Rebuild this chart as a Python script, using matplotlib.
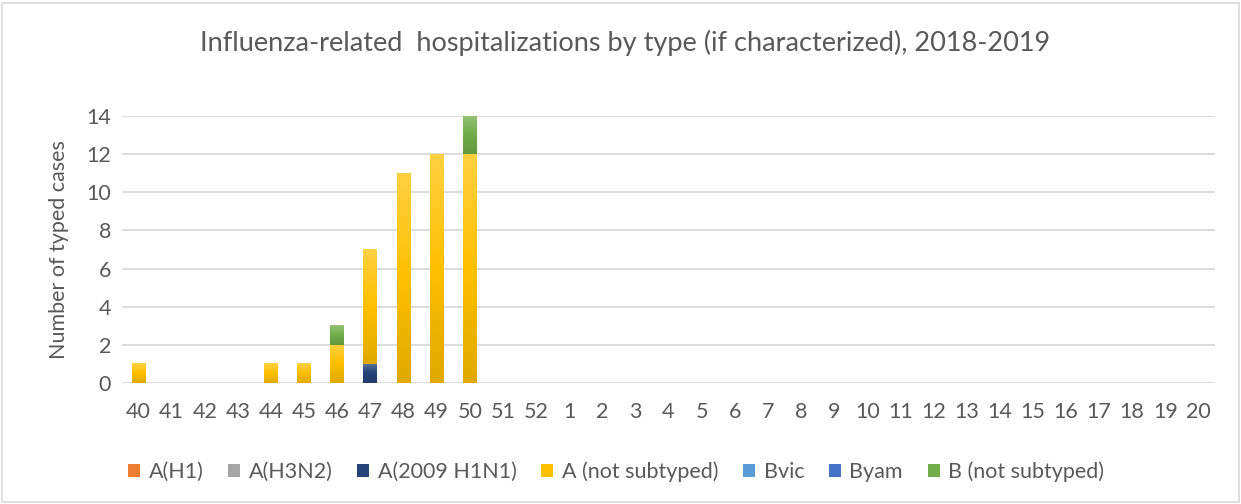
import matplotlib
matplotlib.use("Agg")
import matplotlib.pyplot as plt
import numpy as np
from matplotlib.colors import LinearSegmentedColormap, to_rgb
from matplotlib.patches import Rectangle

weeks = [str(w) for w in list(range(40, 53)) + list(range(1, 21))]
n = len(weeks)

# values per week (40..52, 1..20)
a_h1 = [0] * n
a_h3n2 = [0] * n
a_2009_h1n1 = [0, 0, 0, 0, 0, 0, 0, 1, 0, 0, 0] + [0] * (n - 11)
a_not_subtyped = [1, 0, 0, 0, 1, 1, 2, 6, 11, 12, 12] + [0] * (n - 11)
bvic = [0] * n
byam = [0] * n
b_not_subtyped = [0, 0, 0, 0, 0, 0, 1, 0, 0, 0, 2] + [0] * (n - 11)

series = [
    ("A(H1)", a_h1, "#ED7D31"),
    ("A(H3N2)", a_h3n2, "#A5A5A5"),
    ("A(2009 H1N1)", a_2009_h1n1, "#264478"),
    ("A (not subtyped)", a_not_subtyped, "#FFC000"),
    ("Bvic", bvic, "#5B9BD5"),
    ("Byam", byam, "#4472C4"),
    ("B (not subtyped)", b_not_subtyped, "#70AD47"),
]

plt.rcParams['font.family'] = ['Lato', 'DejaVu Sans']
txt = "#595959"
fs = 15.5

fig = plt.figure(figsize=(12.41, 5.04), dpi=100)
ax = fig.add_axes([0.0983, 0.240, 0.8807, 0.530])

x = np.arange(n)
width = 0.42
bottom = np.zeros(n)


def shade(c, f):
    r = np.array(to_rgb(c))
    if f > 0:
        return tuple(r + (1 - r) * f)
    return tuple(r * (1 + f))


for label, vals, col in series:
    vals = np.array(vals, dtype=float)
    bars = ax.bar(x, vals, width, bottom=bottom, color=col, label=label,
                  linewidth=0, zorder=2)
    cmap = LinearSegmentedColormap.from_list(
        label, [shade(col, -0.12), col, shade(col, 0.25)])
    grad = np.linspace(0, 1, 64).reshape(-1, 1)
    for b in bars:
        if b.get_height() <= 0:
            continue
        x0, y0 = b.get_x(), b.get_y()
        ax.imshow(grad, extent=[x0, x0 + b.get_width(), y0, y0 + b.get_height()],
                  origin="lower", aspect="auto", cmap=cmap, zorder=3)
    bottom += vals

ax.set_xlim(-0.5, n - 0.5)
ax.set_ylim(0, 14)
ax.set_yticks(range(0, 15, 2))
ax.set_xticks(x)
ax.set_xticklabels(weeks)
ax.yaxis.grid(True, color="#D9D9D9", linewidth=1.3, zorder=0)
ax.set_axisbelow(True)
for s in ax.spines.values():
    s.set_visible(False)
ax.tick_params(length=0, labelsize=fs, colors=txt)
ax.tick_params(axis="x", pad=14)
ax.tick_params(axis="y", pad=8)
ax.set_ylabel("Number of typed cases", fontsize=fs, color=txt, labelpad=12)

fig.suptitle("Influenza-related  hospitalizations by type (if characterized), 2018-2019",
             x=0.504, y=0.94, fontsize=19.5, color=txt)

leg = ax.legend(loc="upper left", bbox_to_anchor=(-0.012, -0.22), ncol=7,
                frameon=False, fontsize=fs, handlelength=0.55, handleheight=0.55,
                columnspacing=1.15, handletextpad=0.4)
for t in leg.get_texts():
    t.set_color(txt)

fig.patches.append(Rectangle((0.002, 0.004), 0.996, 0.99, transform=fig.transFigure,
                             fill=False, edgecolor="#D9D9D9", linewidth=1.2))

fig.savefig("out.png", dpi=100)
